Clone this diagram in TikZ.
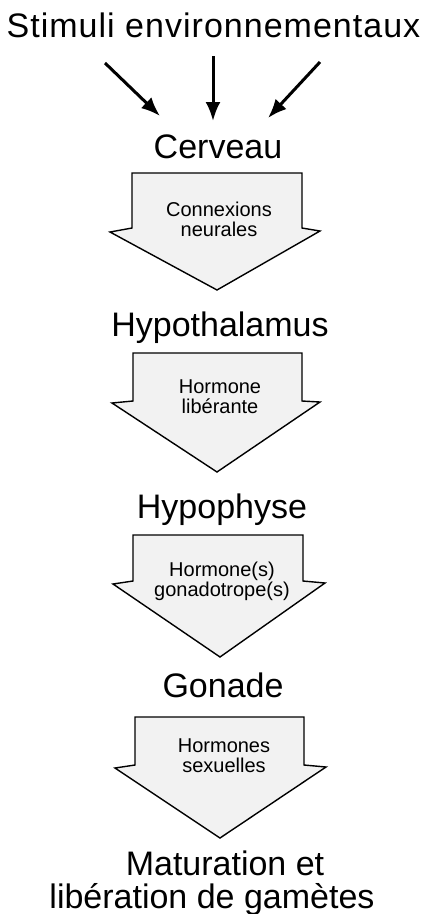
\documentclass[tikz,border=0pt]{standalone}
\usepackage{fontspec}
\setmainfont{Liberation Sans}
\usetikzlibrary{arrows.meta}
\begin{document}
\begin{tikzpicture}[x=1pt,y=-1pt,
  lbl/.style={anchor=base,inner sep=0pt,font=\fontsize{34}{36}\selectfont},
  inlbl/.style={anchor=base,inner sep=0pt,align=center,font=\fontsize{20}{20}\selectfont},
  blockarrow/.style={draw=black,line width=1.4pt,fill=black!5,line join=miter},
  stim/.style={line width=3pt,-{Latex[length=19pt,width=15pt]}}]
\useasboundingbox (0,0) rectangle (427,914);

% labels
\node[lbl] (title) at (213.5,37) {\addfontfeatures{LetterSpace=3}Stimuli environnementaux};
\node[lbl] (cerveau) at (218,158) {Cerveau};
\node[lbl] (hypoth) at (220,336) {Hypothalamus};
\node[lbl] (hypoph) at (222,518) {Hypophyse};
\node[lbl] (gonade) at (223,697) {Gonade};
\node[lbl] (mat1) at (225,875) {Maturation et};
\node[lbl] (mat2) at (212,908) {libération de gamètes};

% stimulus arrows
\coordinate (s1) at (105,63);
\coordinate (s2) at (213,56);
\coordinate (s3) at (320,62);
\coordinate (c1) at (160,116);
\coordinate (c2) at (213,121);
\coordinate (c3) at (268,118);
\draw[stim] (s1) -- (c1);
\draw[stim] (s2) -- (c2);
\draw[stim] (s3) -- (c3);

% block arrows
\draw[blockarrow] (132,173) -- (302,173) -- (302,228) -- (320,231) -- (217,290) -- (110,232) -- (132,228) -- cycle;
\draw[blockarrow] (133,353) -- (302,353) -- (302,401) -- (320,402) -- (217,472) -- (112,403) -- (133,401) -- cycle;
\draw[blockarrow] (133,535) -- (303,535) -- (303,581) -- (325,583) -- (220,657) -- (113,584) -- (133,581) -- cycle;
\draw[blockarrow] (135,717) -- (304,717) -- (304,765) -- (326,767) -- (220,838) -- (115,768) -- (135,765) -- cycle;

% texts inside block arrows (anchor = baseline of the last line)
\node[inlbl] (t1) at (219,236) {Connexions\\neurales};
\node[inlbl] (t2) at (220,413) {Hormone\\libérante};
\node[inlbl] (t3) at (222,596) {Hormone(s)\\gonadotrope(s)};
\node[inlbl] (t4) at (224,772) {Hormones\\sexuelles};
\end{tikzpicture}
\end{document}
